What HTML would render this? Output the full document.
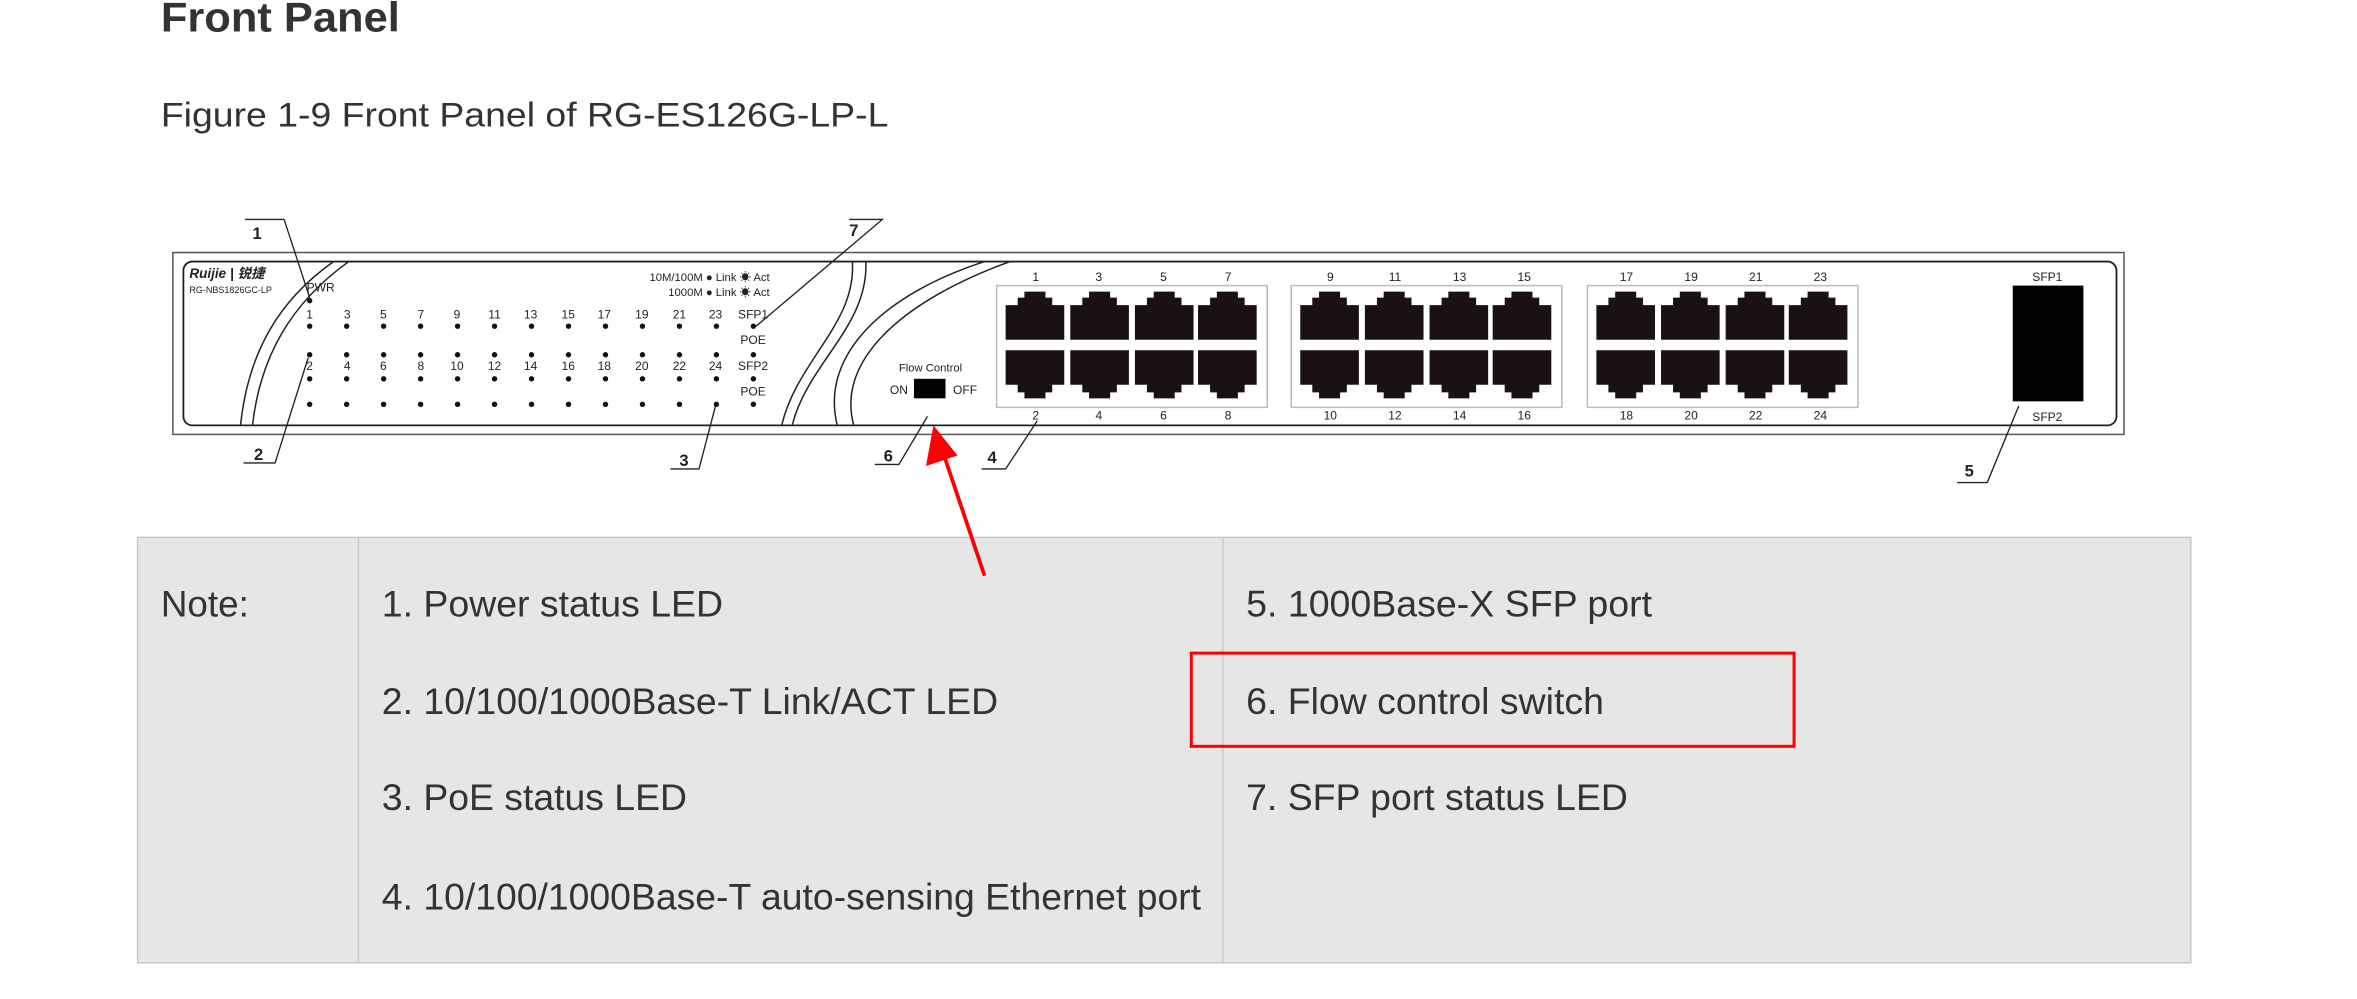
<!DOCTYPE html>
<html><head><meta charset="utf-8"><style>
html,body{margin:0;padding:0;background:#fff;width:2357px;height:999px;overflow:hidden}
svg{display:block}
text{font-family:"Liberation Sans","Noto Sans CJK SC",sans-serif}
</style></head><body>
<svg width="2357" height="999" viewBox="0 0 1568 664.6" preserveAspectRatio="none">
<defs>
<polygon id="pt" points="12.5,0 26.5,0 26.5,4 31,4 31,9 39,9 39,32 0,32 0,9 8,9 8,4 12.5,4" fill="#1a1212"/>
</defs>
<rect width="1568" height="665" fill="#fff"/>
<text x="107" y="21" font-size="28" font-weight="bold" fill="#333" textLength="159" lengthAdjust="spacingAndGlyphs">Front Panel</text>
<text x="107" y="84" font-size="22.5" fill="#333" textLength="484" lengthAdjust="spacingAndGlyphs">Figure 1-9 Front Panel of RG-ES126G-LP-L</text>

<!-- switch body -->
<rect x="115" y="168" width="1298" height="121" fill="#fff" stroke="#555" stroke-width="1"/>
<rect x="122" y="174" width="1286" height="109" rx="6" fill="#fff" stroke="#222" stroke-width="1.2"/>
<g fill="none" stroke="#222" stroke-width="1">
<path d="M160,283 C165,235 185,200 222,174"/>
<path d="M168,283 C173,238 193,202 232,174"/>
<path d="M520,283 C530,240 570,215 567,174"/>
<path d="M527,283 C537,242 578,217 576,174"/>
<path d="M557,283 C545,235 590,195 655,174"/>
<path d="M568,283 C556,240 600,200 672,174"/>
</g>
<text x="126" y="185" font-size="9" font-style="italic" font-weight="bold" fill="#222">Ruijie | 锐捷</text>
<text x="126" y="195" font-size="6" fill="#222">RG-NBS1826GC-LP</text>
<text x="204" y="194" font-size="8" fill="#222">PWR</text>
<circle cx="206" cy="200" r="1.8" fill="#111"/>
<text x="512" y="187" font-size="7.5" fill="#222" text-anchor="end">10M/100M ● Link ☀ Act</text>
<text x="512" y="197" font-size="7.5" fill="#222" text-anchor="end">1000M ● Link ☀ Act</text>
<g font-size="8" fill="#222" text-anchor="middle">
<text x="206" y="212">1</text><text x="231" y="212">3</text><text x="255" y="212">5</text><text x="280" y="212">7</text><text x="304" y="212">9</text><text x="329" y="212">11</text><text x="353" y="212">13</text><text x="378" y="212">15</text><text x="402" y="212">17</text><text x="427" y="212">19</text><text x="452" y="212">21</text><text x="476" y="212">23</text><text x="501" y="212">SFP1</text>
<text x="206" y="246">2</text><text x="231" y="246">4</text><text x="255" y="246">6</text><text x="280" y="246">8</text><text x="304" y="246">10</text><text x="329" y="246">12</text><text x="353" y="246">14</text><text x="378" y="246">16</text><text x="402" y="246">18</text><text x="427" y="246">20</text><text x="452" y="246">22</text><text x="476" y="246">24</text><text x="501" y="246">SFP2</text>
<text x="501" y="229">POE</text><text x="501" y="263">POE</text>
</g>
<g fill="#111">
<g id="dcol">
<circle cx="206" cy="217" r="1.8"/><circle cx="206" cy="236" r="1.8"/><circle cx="206" cy="252" r="1.8"/><circle cx="206" cy="269" r="1.8"/>
</g>
<use href="#dcol" x="24.6"/><use href="#dcol" x="49.2"/><use href="#dcol" x="73.8"/><use href="#dcol" x="98.4"/><use href="#dcol" x="123"/><use href="#dcol" x="147.6"/><use href="#dcol" x="172.2"/><use href="#dcol" x="196.8"/><use href="#dcol" x="221.4"/><use href="#dcol" x="246"/><use href="#dcol" x="270.6"/><use href="#dcol" x="295.2"/>
</g>

<!-- flow control -->
<text x="619" y="247" font-size="7.5" fill="#222" text-anchor="middle">Flow Control</text>
<text x="598" y="262" font-size="8" fill="#222" text-anchor="middle">ON</text>
<rect x="608" y="252" width="21" height="13" fill="#000"/>
<text x="642" y="262" font-size="8" fill="#222" text-anchor="middle">OFF</text>

<!-- port groups -->
<g fill="#fff" stroke="#bbb" stroke-width="1">
<rect x="663" y="190" width="180" height="81"/>
<rect x="859" y="190" width="180" height="81"/>
<rect x="1056" y="190" width="180" height="81"/>
</g>
<g id="grp">
<use href="#pt" x="669" y="194"/><use href="#pt" x="712" y="194"/><use href="#pt" x="755" y="194"/><use href="#pt" x="797" y="194"/>
<use href="#pt" transform="translate(669,265) scale(1,-1)"/><use href="#pt" transform="translate(712,265) scale(1,-1)"/><use href="#pt" transform="translate(755,265) scale(1,-1)"/><use href="#pt" transform="translate(797,265) scale(1,-1)"/>
</g>
<use href="#grp" x="196"/><use href="#grp" x="393"/>
<g font-size="8" fill="#222" text-anchor="middle">
<text x="689" y="187">1</text><text x="731" y="187">3</text><text x="774" y="187">5</text><text x="817" y="187">7</text>
<text x="885" y="187">9</text><text x="928" y="187">11</text><text x="971" y="187">13</text><text x="1014" y="187">15</text>
<text x="1082" y="187">17</text><text x="1125" y="187">19</text><text x="1168" y="187">21</text><text x="1211" y="187">23</text>
<text x="689" y="279">2</text><text x="731" y="279">4</text><text x="774" y="279">6</text><text x="817" y="279">8</text>
<text x="885" y="279">10</text><text x="928" y="279">12</text><text x="971" y="279">14</text><text x="1014" y="279">16</text>
<text x="1082" y="279">18</text><text x="1125" y="279">20</text><text x="1168" y="279">22</text><text x="1211" y="279">24</text>
<text x="1362" y="187">SFP1</text><text x="1362" y="280">SFP2</text>
</g>
<rect x="1339" y="190" width="47" height="77" fill="#000"/>

<!-- callouts -->
<g fill="none" stroke="#222" stroke-width="0.9">
<polyline points="163,146 189,146 206,198"/>
<polyline points="565,146 587,146 503,217"/>
<polyline points="162,308 183,308 205,238"/>
<polyline points="446,312 465,312 476,270"/>
<polyline points="582,309 598,309 617,277"/>
<polyline points="653,312 669,312 690,280"/>
<polyline points="1302,321 1322,321 1343,270"/>
</g>
<g font-size="11" font-weight="bold" fill="#222" text-anchor="middle">
<text x="171" y="159">1</text><text x="568" y="157">7</text>
<text x="172" y="306">2</text><text x="455" y="310">3</text><text x="591" y="307">6</text><text x="660" y="308">4</text><text x="1310" y="317">5</text>
</g>

<!-- table -->
<rect x="91.5" y="357.5" width="1366" height="283" fill="#e6e6e6" stroke="#c8c8c8" stroke-width="1"/>
<line x1="238.5" y1="357.5" x2="238.5" y2="640.5" stroke="#c8c8c8"/>
<line x1="813.5" y1="357.5" x2="813.5" y2="640.5" stroke="#c8c8c8"/>
<g font-size="24.5" fill="#333">
<text x="107" y="410">Note:</text>
<text x="254" y="410" textLength="227" lengthAdjust="spacingAndGlyphs">1. Power status LED</text>
<text x="254" y="475" textLength="410" lengthAdjust="spacingAndGlyphs">2. 10/100/1000Base-T Link/ACT LED</text>
<text x="254" y="539" textLength="203" lengthAdjust="spacingAndGlyphs">3. PoE status LED</text>
<text x="254" y="605" textLength="545" lengthAdjust="spacingAndGlyphs">4. 10/100/1000Base-T auto-sensing Ethernet port</text>
<text x="829" y="410" textLength="270" lengthAdjust="spacingAndGlyphs">5. 1000Base-X SFP port</text>
<text x="829" y="475" textLength="238" lengthAdjust="spacingAndGlyphs">6. Flow control switch</text>
<text x="829" y="539" textLength="254" lengthAdjust="spacingAndGlyphs">7. SFP port status LED</text>
</g>
<rect x="792.5" y="434.5" width="401" height="62" fill="none" stroke="#f00" stroke-width="2"/>

<!-- red arrow -->
<line x1="655" y1="383" x2="627" y2="300" stroke="#f00" stroke-width="2.5"/>
<polygon points="621,283 616,310 637,303" fill="#f00"/>
</svg>
</body></html>
